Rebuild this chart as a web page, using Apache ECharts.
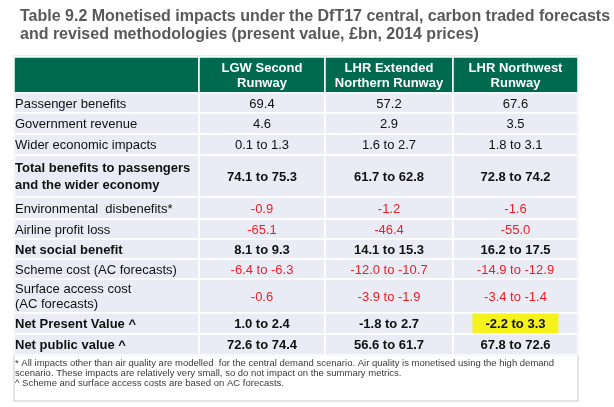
<!DOCTYPE html>
<html lang="en">

<head>
    <meta charset="UTF-8">
    <title>Table 9.2</title>
    <script src="https://cdn.jsdelivr.net/npm/echarts@6/dist/echarts.min.js"></script>
    <style>
        html, body { margin: 0; padding: 0; background: #fff; }
        #main { width: 614px; height: 407px; }
    </style>
</head>

<body>
    <div id="main"></div>
    <script>
        // 表格数据
        var titleLines = [
            'Table 9.2 Monetised impacts under the DfT17 central, carbon traded forecasts',
            'and revised methodologies (present value, £bn, 2014 prices)'
        ];
        var columns = ['LGW Second\nRunway', 'LHR Extended\nNorthern Runway', 'LHR Northwest\nRunway'];
        var rowLabels = [
            'Passenger benefits',
            'Government revenue',
            'Wider economic impacts',
            'Total benefits to passengers\nand the wider economy',
            'Environmental  disbenefits*',
            'Airline profit loss',
            'Net social benefit',
            'Scheme cost (AC forecasts)',
            'Surface access cost\n(AC forecasts)',
            'Net Present Value ^',
            'Net public value ^'
        ];
        // low / high of each range (null = single value)
        var lgwLow = [69.4, 4.6, 0.1, 74.1, -0.9, -65.1, 8.1, -6.4, -0.6, 1.0, 72.6];
        var lgwHigh = [null, null, 1.3, 75.3, null, null, 9.3, -6.3, null, 2.4, 74.4];
        var enrLow = [57.2, 2.9, 1.6, 61.7, -1.2, -46.4, 14.1, -12.0, -3.9, -1.8, 56.6];
        var enrHigh = [null, null, 2.7, 62.8, null, null, 15.3, -10.7, -1.9, 2.7, 61.7];
        var nwrLow = [67.6, 3.5, 1.8, 72.8, -1.6, -55.0, 16.2, -14.9, -3.4, -2.2, 67.8];
        var nwrHigh = [null, null, 3.1, 74.2, null, null, 17.5, -12.9, -1.4, 3.3, 72.6];
        var footnotes = [
            '* All impacts other than air quality are modelled  for the central demand scenario. Air quality is monetised using the high demand',
            'scenario. These impacts are relatively very small, so do not impact on the summary metrics.',
            '^ Scheme and surface access costs are based on AC forecasts.'
        ];
        var boldRows = [3, 6, 9, 10];
        var redRows = [4, 5, 7, 8];
        var highlight = [9, 3]; // row, column (marker pen)

        // 布局
        var colWidths = [185, 126, 128, 125];
        var rowHeights = [36, 20, 21, 21, 42, 22, 20, 20, 20, 34, 21, 21];
        var colEdges = [0], rowEdges = [0];
        colWidths.forEach(function (w, i) { colEdges.push(colEdges[i] + w); });
        rowHeights.forEach(function (h, i) { rowEdges.push(rowEdges[i] + h); });
        var font = 'Liberation Sans, Arial, sans-serif';
        var tableLeft = 14, tableTop = 57;

        function fmt(lo, hi) {
            return lo.toFixed(1) + (hi == null ? '' : ' to ' + hi.toFixed(1));
        }
        var lows = [lgwLow, enrLow, nwrLow], highs = [lgwHigh, enrHigh, nwrHigh];

        var cells = [];
        for (var r = 0; r < rowHeights.length; r++) {
            for (var c = 0; c < colWidths.length; c++) {
                cells.push([c, r]);
            }
        }

        function cellText(c, r) {
            if (r === 0) return c === 0 ? '' : columns[c - 1];
            if (c === 0) return rowLabels[r - 1];
            return fmt(lows[c - 1][r - 1], highs[c - 1][r - 1]);
        }

        var myChart = echarts.init(document.getElementById('main'));
        var option = {
            animation: false,
            title: {
                text: titleLines.join('\n'),
                left: 15,
                top: 3,
                textStyle: { color: '#595959', fontSize: 16, fontWeight: 'bold', fontFamily: font, lineHeight: 18 }
            },
            grid: { left: tableLeft, top: tableTop, width: colEdges[4], height: rowEdges[12] },
            xAxis: { type: 'value', min: 0, max: colEdges[4], show: false },
            yAxis: { type: 'value', min: 0, max: rowEdges[12], inverse: true, show: false },
            series: [{
                type: 'custom',
                data: cells,
                renderItem: function (params, api) {
                    var c = api.value(0), r = api.value(1);
                    var p0 = api.coord([colEdges[c], rowEdges[r]]);
                    var p1 = api.coord([colEdges[c + 1], rowEdges[r + 1]]);
                    var head = r === 0;
                    var row = r - 1;
                    var bold = head || boldRows.indexOf(row) >= 0;
                    var color = head ? '#fff' : (c > 0 && redRows.indexOf(row) >= 0 ? '#f01c24' : '#111');
                    var mark = row === highlight[0] && c === highlight[1];
                    return {
                        type: 'group',
                        children: [{
                            type: 'rect',
                            shape: { x: p0[0], y: p0[1], width: p1[0] - p0[0], height: p1[1] - p0[1] },
                            style: { fill: head ? '#006a4e' : '#e9ecf4', stroke: '#fff', lineWidth: 1.5 }
                        }, {
                            type: 'text',
                            x: c === 0 ? p0[0] + 1 : (p0[0] + p1[0]) / 2,
                            y: (p0[1] + p1[1]) / 2 + 1,
                            style: {
                                text: cellText(c, r),
                                fill: color,
                                font: (bold ? 'bold ' : '') + '13px ' + font,
                                align: c === 0 ? 'left' : 'center',
                                verticalAlign: 'middle',
                                lineHeight: head ? 15 : (bold ? 17 : 15),
                                backgroundColor: mark ? '#f5f21c' : null,
                                padding: mark ? [3, 13, 2, 13] : 0
                            }
                        }]
                    };
                }
            }],
            graphic: [{
                type: 'rect',
                shape: { x: tableLeft, y: tableTop + rowEdges[12], width: colEdges[4], height: 46 },
                style: { fill: '#fff', stroke: '#c8c8c8', lineWidth: 1 }
            }, {
                type: 'rect',
                shape: { x: tableLeft - 0.5, y: tableTop - 1, width: colEdges[4] + 1, height: rowEdges[12] + 1 },
                style: { fill: null, stroke: '#d8d8d8', lineWidth: 1 },
                z: -1
            }].concat(footnotes.map(function (t, i) {
                return {
                    type: 'text',
                    x: 15,
                    y: tableTop + rowEdges[12] + 8 + i * 10,
                    style: { text: t, fill: '#3a3a3a', font: '9.5px ' + font, verticalAlign: 'middle' }
                };
            }))
        };
        myChart.setOption(option);
    </script>
</body>

</html>
